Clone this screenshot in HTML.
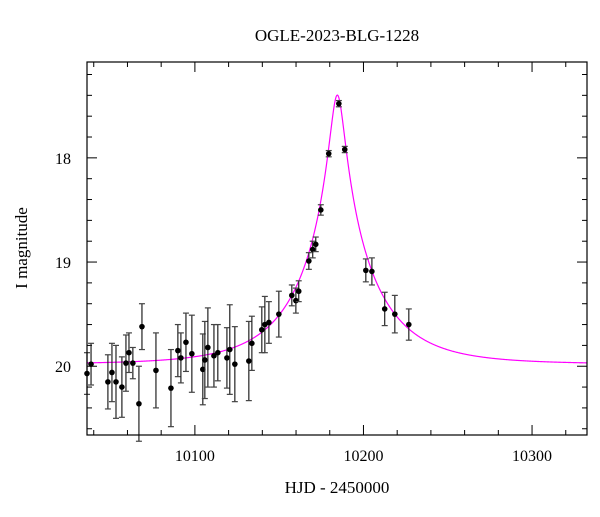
<!DOCTYPE html>
<html><head><meta charset="utf-8"><style>
body{margin:0;background:#fff}
svg text{font-family:"Liberation Serif",serif;fill:#000}
</style></head><body>
<svg id="chart" width="600" height="512" viewBox="0 0 600 512" xmlns="http://www.w3.org/2000/svg">
<text x="337" y="41" font-size="17" text-anchor="middle">OGLE-2023-BLG-1228</text>
<text x="337" y="493" font-size="17" text-anchor="middle">HJD - 2450000</text>
<text x="0" y="0" font-size="17" text-anchor="middle" transform="translate(27,248) rotate(-90)">I magnitude</text>
<g id="ticks"></g>
<g id="curve"></g>
<g id="pts"></g>
<rect x="87" y="62" width="500" height="373" fill="none" stroke="#000" stroke-width="1.2"/>
</svg>
<script>
const days=[10036,10038.4,10048.4,10050.8,10053.2,10056.7,10059.1,10060.9,10063.2,10066.8,10068.6,10076.9,10085.8,10089.9,10091.7,10094.7,10098.2,10104.7,10105.9,10107.7,10111.3,10113.6,10119,10120.7,10123.7,10132,10133.8,10139.7,10141.5,10143.9,10149.8,10157.5,10159.9,10161.6,10167.6,10169.9,10171.7,10174.7,10179.4,10185.4,10188.9,10201.4,10205,10212.6,10218.6,10226.9];
const mags=[20.07,19.98,20.15,20.06,20.15,20.2,19.97,19.87,19.97,20.36,19.62,20.04,20.21,19.85,19.92,19.77,19.88,20.03,19.94,19.82,19.9,19.87,19.92,19.84,19.98,19.95,19.78,19.65,19.6,19.58,19.5,19.32,19.37,19.28,18.99,18.88,18.83,18.5,17.96,17.48,17.92,19.08,19.09,19.45,19.5,19.6];
const errs=[0.2,0.2,0.26,0.28,0.35,0.29,0.27,0.19,0.15,0.36,0.22,0.36,0.37,0.25,0.24,0.28,0.37,0.34,0.37,0.38,0.3,0.27,0.29,0.43,0.36,0.38,0.26,0.22,0.27,0.2,0.22,0.1,0.12,0.1,0.08,0.08,0.07,0.05,0.03,0.03,0.03,0.11,0.13,0.16,0.18,0.15];
const xTicks=[10100,10200,10300];
const yTicks=[18,19,20];
const model={t0:10184.5,u0:0.093,tE:44,base:19.98};

const X0=87,X1=587,Y0=62,Y1=435,dMin=10036,dMax=10332.6,mMin=17.08,mMax=20.66;
const sx=d=>X0+(d-dMin)/(dMax-dMin)*(X1-X0);
const sy=m=>Y0+(m-mMin)/(mMax-mMin)*(Y1-Y0);
const NS='http://www.w3.org/2000/svg';
function mk(tag,attrs,parent){const e=document.createElementNS(NS,tag);for(const k in attrs)e.setAttribute(k,attrs[k]);parent.appendChild(e);return e;}
const tg=document.getElementById('ticks');
for(let d=10040;d<=dMax;d+=20){const x=sx(d);const major=(d%100===0);const L=major?10:5;
 const t1=mk('line',{x1:x,x2:x,y1:Y1,y2:Y1-L,stroke:'#000'},tg);
 
 
 const t2=mk('line',{x1:x,x2:x,y1:Y0,y2:Y0+L,stroke:'#000'},tg);
 
 }
xTicks.forEach(d=>{const t=mk('text',{x:sx(d),y:Y1+26,'font-size':16,'text-anchor':'middle'},tg);t.textContent=d;
 
 });
for(let i=0;i<=20;i++){const m=17.2+i*0.2;if(m>mMax)break;const y=sy(m);const major=Math.abs(m-Math.round(m))<1e-6;const L=major?10:5;
 const t1=mk('line',{x1:X0,x2:X0+L,y1:y,y2:y,stroke:'#000'},tg);
 
 
 const t2=mk('line',{x1:X1,x2:X1-L,y1:y,y2:y,stroke:'#000'},tg);
 
 }
yTicks.forEach(m=>{const t=mk('text',{x:X0-16,y:sy(m)+6,'font-size':16,'text-anchor':'end'},tg);t.textContent=m;
 
 });
// model
let dstr='';
for(let d=dMin;d<=dMax;d+=0.25){const tau=(d-model.t0)/model.tE;const u=Math.sqrt(tau*tau+model.u0*model.u0);
 const A=(u*u+2)/(u*Math.sqrt(u*u+4));const m=model.base-2.5*Math.log10(A);
 dstr+=(dstr?'L':'M')+sx(d).toFixed(2)+','+sy(m).toFixed(2);}
const cp=mk('path',{d:dstr,fill:'none',stroke:'#ff00ff','stroke-width':1.2},document.getElementById('curve'));


const pg=document.getElementById('pts');
days.forEach((d,i)=>{const x=sx(d),y=sy(mags[i]),ya=sy(mags[i]-errs[i]),yb=sy(mags[i]+errs[i]);
 const g=mk('g',{},pg);
 
 
 mk('line',{x1:x,x2:x,y1:ya,y2:yb,stroke:'#222','stroke-width':1.2},g);
 mk('line',{x1:x-3,x2:x+3,y1:ya,y2:ya,stroke:'#444','stroke-width':1.2},g);
 mk('line',{x1:x-3,x2:x+3,y1:yb,y2:yb,stroke:'#444','stroke-width':1.2},g);
 mk('circle',{cx:x,cy:y,r:2.8,fill:'#000'},g);});
</script>
</body></html>
